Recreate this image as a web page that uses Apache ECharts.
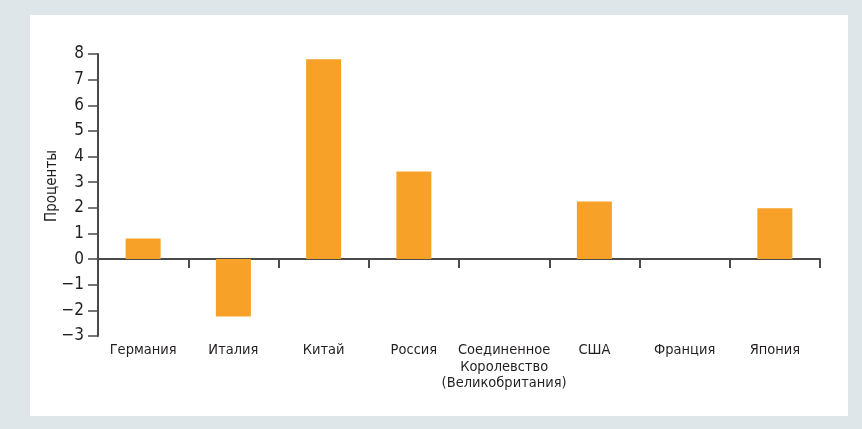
<!DOCTYPE html>
<html>
<head>
<meta charset="utf-8">
<script src="https://cdn.jsdelivr.net/npm/echarts@6/dist/echarts.min.js"></script>
<style>
html,body{margin:0;padding:0;background:#dfe6e9;width:862px;height:429px;overflow:hidden;}
#panel{position:absolute;left:30px;top:15px;width:818px;height:401px;background:#ffffff;}
#chart{width:818px;height:401px;}
</style>
</head>
<body>
<div id="panel"><div id="chart"></div></div>
<script>
const categories = ['Германия', 'Италия', 'Китай', 'Россия', 'Соединенное\nКоролевство\n(Великобритания)', 'США', 'Франция', 'Япония'];
const values = [0.80, -2.24, 7.80, 3.42, null, 2.25, null, 1.98];
const yTicks = { min: -3, max: 8, interval: 1 };
const yTitle = 'Проценты';

const FONT = "'Liberation Sans Narrow', 'DejaVu Sans Condensed', 'Arial Narrow', sans-serif";
const chart = echarts.init(document.getElementById('chart'), null, { renderer: 'canvas' });
chart.setOption({
  animation: false,
  grid: { left: 68, top: 39, right: 28, bottom: 80, containLabel: false, outerBoundsMode: 'none' },
  xAxis: [{
    type: 'category',
    data: categories,
    position: 'bottom',
    axisLine: { show: false, onZero: false },
    axisTick: { show: false },
    axisLabel: {
      interval: 0, margin: 6, verticalAlign: 'top', lineHeight: 16.5,
      fontFamily: FONT, fontSize: 14.5, color: '#231f20'
    },
    splitLine: { show: false }
  }, {
    type: 'category',
    data: categories,
    position: 'bottom',
    axisLine: { show: true, onZero: true, lineStyle: { color: '#4a4a4a', width: 2 } },
    axisTick: { show: true, interval: 0, length: 9, lineStyle: { color: '#4a4a4a', width: 2 } },
    axisLabel: { show: false, interval: 0 },
    splitLine: { show: false }
  }],
  yAxis: {
    type: 'value',
    min: yTicks.min, max: yTicks.max, interval: yTicks.interval,
    name: yTitle, nameLocation: 'middle', nameGap: 38, nameRotate: 90, nameMoveOverlap: false,
    nameTextStyle: { fontFamily: FONT, fontSize: 15, color: '#231f20', padding: [0, 0, 0, 18] },
    axisLine: { show: true, lineStyle: { color: '#4a4a4a', width: 2 } },
    axisTick: { show: true, inside: false, length: 10, lineStyle: { color: '#4a4a4a', width: 1.5 } },
    axisLabel: {
      margin: 14, fontFamily: FONT, fontSize: 17, color: '#231f20',
      formatter: v => String(v).replace('-', '\u2212')
    },
    splitLine: { show: false }
  },
  series: [{
    type: 'bar',
    xAxisIndex: 0,
    data: values,
    barWidth: 35,
    itemStyle: { color: '#f8a128' }
  }]
});
</script>
</body>
</html>
